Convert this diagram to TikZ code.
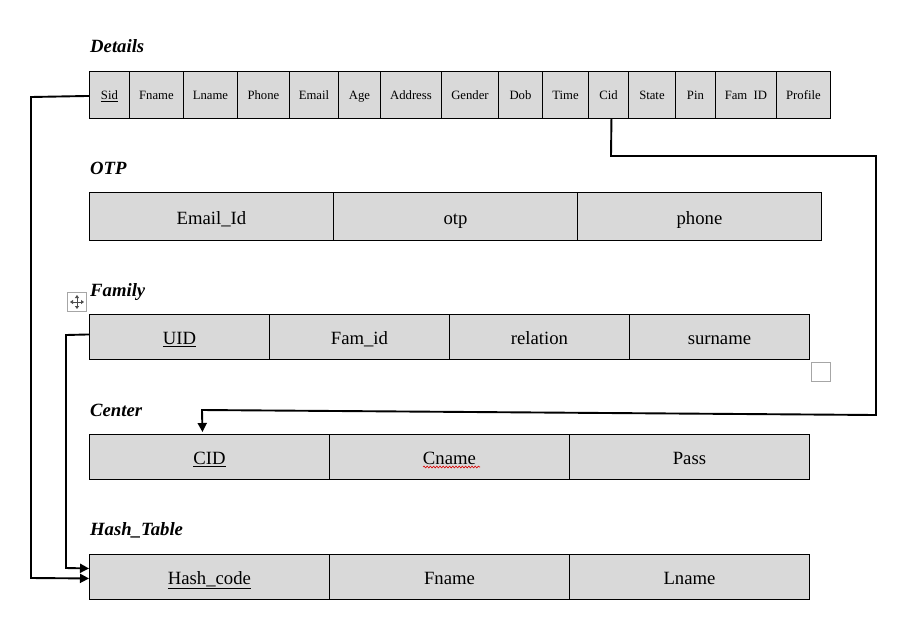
\documentclass[tikz,border=0pt]{standalone}
\usepackage{fontspec}
\setmainfont{Liberation Serif}
\usetikzlibrary{arrows.meta,decorations.pathmorphing}
\definecolor{cellgray}{HTML}{D9D9D9}
\definecolor{iconborder}{HTML}{A6A6A6}
\begin{document}
\begin{tikzpicture}[x=1pt,y=-1pt,
  cellbox/.style={draw=black, line width=0.9pt, fill=cellgray, inner sep=0pt, anchor=north west},
  smallcell/.style={cellbox, minimum height=47pt, text height=10.8pt, text depth=1.9pt, font=\fontsize{12.7}{14}\selectfont},
  bigcell/.style={cellbox, minimum height=45pt, text height=17.8pt, text depth=2.8pt, font=\fontsize{18.7}{22}\selectfont},
  otpcell/.style={cellbox, minimum height=48pt, text height=18.7pt, text depth=2.7pt, font=\fontsize{18.7}{22}\selectfont},
  tabletitle/.style={anchor=base west, inner sep=0pt, font=\fontsize{18.7}{22}\selectfont\bfseries\itshape},
  conn/.style={draw=black, line width=1.9pt},
  tip/.style={-{Triangle[length=9pt,width=9pt]}}
]
\useasboundingbox (0,0) rectangle (907,638);

% ---------- Details ----------
\node[tabletitle] (tdetails) at (90,52) {Details};
\node[smallcell, minimum width=40pt] (sid) at (89,71) {\underline{Sid}};
\node[smallcell, minimum width=54pt] (fname) at (129,71) {Fname};
\node[smallcell, minimum width=54pt] (lname) at (183,71) {Lname};
\node[smallcell, minimum width=52pt] (phone) at (237,71) {Phone};
\node[smallcell, minimum width=49pt] (email) at (289,71) {Email};
\node[smallcell, minimum width=42pt] (age) at (338,71) {Age};
\node[smallcell, minimum width=61pt] (address) at (380,71) {Address};
\node[smallcell, minimum width=57pt] (gender) at (441,71) {Gender};
\node[smallcell, minimum width=44pt] (dob) at (498,71) {Dob};
\node[smallcell, minimum width=46pt] (time) at (542,71) {Time};
\node[smallcell, minimum width=40pt] (cid) at (588,71) {Cid};
\node[smallcell, minimum width=47pt] (state) at (628,71) {State};
\node[smallcell, minimum width=40pt] (pin) at (675,71) {Pin};
\node[smallcell, minimum width=61pt] (famid) at (715,71) {Fam\ \ ID};
\node[smallcell, minimum width=54pt] (profile) at (776,71) {Profile};

% ---------- OTP ----------
\node[tabletitle] (totp) at (90,174) {OTP};
\node[otpcell, minimum width=244pt] (emailid) at (89,192) {Email\_Id};
\node[otpcell, minimum width=244pt] (otp) at (333,192) {otp};
\node[otpcell, minimum width=244pt] (ophone) at (577,192) {phone};

% ---------- Family ----------
\node[tabletitle] (tfamily) at (90,296) {Family};
\node[bigcell, minimum width=180pt] (uid) at (89,314) {\underline{UID}};
\node[bigcell, minimum width=180pt] (famid2) at (269,314) {Fam\_id};
\node[bigcell, minimum width=180pt] (relation) at (449,314) {relation};
\node[bigcell, minimum width=180pt] (surname) at (629,314) {surname};

% ---------- Center ----------
\node[tabletitle] (tcenter) at (90,416) {Center};
\node[bigcell, minimum width=240pt] (cidc) at (89,434) {\underline{CID}};
\node[bigcell, minimum width=240pt] (cname) at (329,434) {Cname};
\node[bigcell, minimum width=240pt] (pass) at (569,434) {Pass};
\draw[red!85!black, line width=0.6pt, decorate, decoration={snake, amplitude=0.9pt, segment length=3.2pt}]
  (423,467) -- (480,467);

% ---------- Hash_Table ----------
\node[tabletitle] (thash) at (90,535) {Hash\_Table};
\node[bigcell, minimum width=240pt] (hc) at (89,554) {\underline{Hash\_code}};
\node[bigcell, minimum width=240pt] (hfname) at (329,554) {Fname};
\node[bigcell, minimum width=240pt] (hlname) at (569,554) {Lname};

% ---------- Word handles ----------
\node[draw=iconborder, line width=1.6pt, minimum size=19pt, inner sep=0pt] (movehandle) at (77,302) {};
\draw[gray!60!black, line width=0.9pt, {Triangle[length=3pt,width=4pt]}-{Triangle[length=3pt,width=4pt]}]
  ([xshift=-7pt]movehandle.center) -- ([xshift=7pt]movehandle.center);
\draw[gray!60!black, line width=0.9pt, {Triangle[length=3pt,width=4pt]}-{Triangle[length=3pt,width=4pt]}]
  ([yshift=-7pt]movehandle.center) -- ([yshift=7pt]movehandle.center);
\node[draw=iconborder, line width=1.6pt, minimum size=19pt, inner sep=0pt] (sizehandle) at (821,372) {};

% ---------- Connectors ----------
\coordinate (sidleft) at (31,97);
\coordinate (sidbottom) at (31,578);
\draw[conn, tip] ([yshift=-1pt]sid.west) -- (sidleft) -- (sidbottom) -- ([yshift=-1.5pt]hc.west);

\coordinate (uidleft) at (66,335);
\coordinate (uidbottom) at (66,568);
\draw[conn, tip] ([yshift=2.5pt]uid.west) -- (uidleft) -- (uidbottom) -- ([yshift=8.5pt]hc.west);

\coordinate (cidturn) at (611,156);
\coordinate (cidright) at (876,156);
\coordinate (cidrightlow) at (876,415);
\coordinate (cidleft) at (202,410);
\draw[conn, tip] ([xshift=3pt]cid.south) -- (cidturn) -- (cidright) -- (cidrightlow) -- (cidleft) -- ([xshift=-7pt,yshift=2pt]cidc.north);
\end{tikzpicture}
\end{document}
